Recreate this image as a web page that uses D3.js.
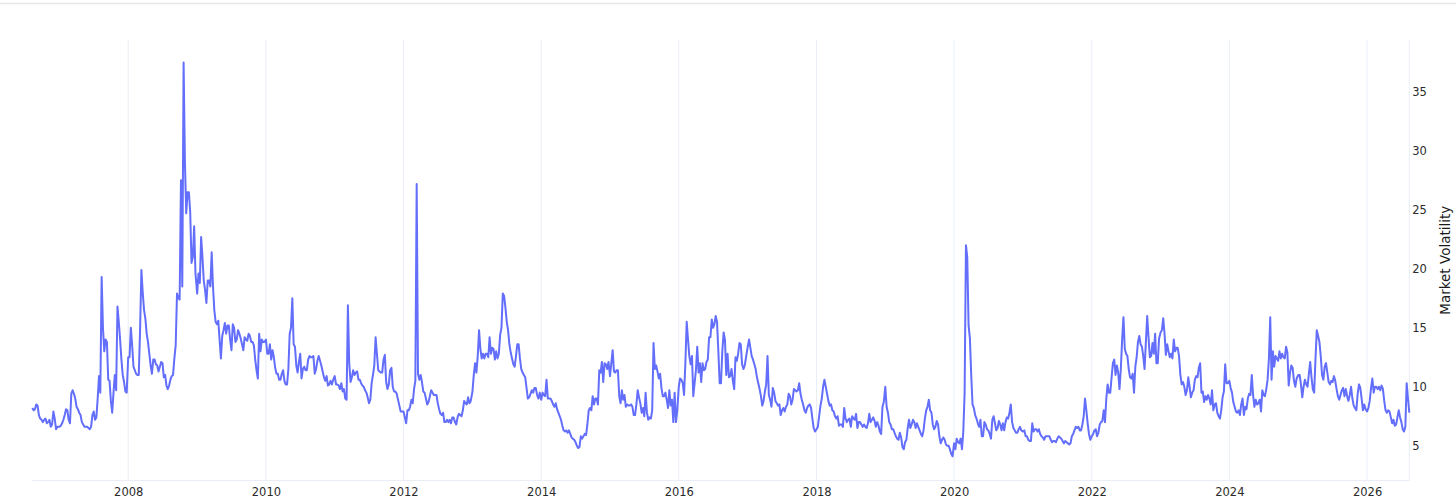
<!DOCTYPE html>
<html>
<head>
<meta charset="utf-8">
<script src="https://cdn.jsdelivr.net/npm/d3@7"></script>
<style>
  body { margin: 0; background: #fff; overflow: hidden; }
</style>
</head>
<body>
<div id="chart"></div>
<script>
// --- Data: weekly readings, one array per year ---
// 2006 starts on Aug 10, every other year on Jan 1; one value every 7 days
const v2006 = [8.2, 8.0, 8.1, 8.5, 8.4, 7.6, 7.3, 7.2, 7.0, 7.2, 7.3, 6.9, 7.0, 7.2, 6.6, 6.8, 7.9, 7.3, 6.4, 6.6];
const v2007 = [6.6, 6.7, 6.9, 7.2, 7.6, 8.1, 8.0, 7.2, 6.9, 9.4, 9.7, 9.4, 9.0, 8.3, 8.1, 7.8, 7.6, 7.0, 6.8, 6.6, 6.6, 6.6, 6.5, 6.4, 6.6, 7.6, 7.9, 7.2, 7.4, 9.0, 10.9, 9.5, 19.3, 15.0, 13.0, 14.0, 13.8, 10.6, 10.5, 8.8, 7.8, 9.5, 11.0, 9.7, 16.8, 15.5, 14.0, 12.3, 11.0, 10.4, 9.6, 9.5];
const v2008 = [12.5, 12.5, 15.0, 13.5, 11.7, 11.4, 11.1, 11.0, 11.0, 14.8, 19.9, 18.0, 16.5, 15.8, 14.5, 13.8, 12.8, 11.8, 11.1, 12.3, 12.3, 11.9, 11.8, 11.3, 11.7, 12.1, 12.0, 10.8, 11.0, 10.1, 9.8, 10.1, 10.6, 10.9, 11.0, 12.4, 13.5, 17.9, 17.5, 17.4, 27.5, 18.5, 37.5, 29.0, 24.7, 26.5, 26.5, 24.8, 20.5, 21.0, 23.6, 19.6];
const v2009 = [17.9, 19.6, 18.8, 22.7, 21.0, 19.0, 18.2, 17.1, 19.0, 19.0, 18.5, 21.4, 18.5, 16.5, 15.5, 15.3, 15.6, 14.0, 12.4, 14.3, 14.8, 15.4, 14.5, 15.2, 15.2, 14.0, 13.1, 15.3, 15.0, 13.8, 14.0, 14.8, 14.5, 14.1, 13.6, 13.1, 14.2, 14.0, 13.9, 14.5, 14.3, 13.8, 13.8, 13.5, 12.3, 11.4, 10.7, 14.5, 13.0, 14.0, 13.8, 13.8];
const v2010 = [14.0, 12.8, 12.8, 13.6, 12.3, 13.1, 12.5, 11.6, 11.1, 11.1, 10.6, 10.6, 11.1, 11.4, 10.5, 10.2, 10.2, 11.5, 14.5, 15.0, 17.5, 13.6, 13.4, 11.8, 11.2, 12.1, 12.8, 10.7, 11.5, 11.7, 11.4, 11.4, 12.3, 12.6, 12.5, 12.5, 12.6, 11.1, 11.5, 12.2, 12.6, 12.2, 11.8, 11.3, 10.8, 10.5, 10.9, 10.1, 10.2, 10.5, 10.2, 10.6];
const v2011 = [10.9, 10.2, 10.2, 10.1, 9.8, 10.3, 9.6, 9.8, 9.0, 8.9, 16.9, 12.0, 10.4, 10.8, 11.4, 11.0, 11.2, 11.3, 10.6, 10.6, 10.3, 10.1, 10.0, 9.7, 9.5, 9.1, 8.6, 8.9, 10.3, 11.0, 11.8, 14.2, 12.8, 11.4, 11.3, 11.2, 11.2, 12.3, 12.7, 10.4, 9.8, 10.2, 11.4, 11.6, 10.0, 9.6, 9.6, 9.4, 8.9, 8.4, 7.9, 7.9];
const v2012 = [7.9, 7.4, 6.9, 8.0, 8.0, 8.3, 8.9, 8.6, 9.8, 10.5, 27.2, 11.1, 10.6, 11.0, 10.4, 9.6, 9.5, 9.0, 8.5, 8.7, 9.2, 9.7, 9.5, 9.3, 9.3, 9.3, 8.6, 8.1, 7.7, 7.6, 7.8, 7.0, 7.0, 7.2, 7.0, 7.2, 6.9, 7.4, 7.4, 7.0, 6.8, 7.4, 7.7, 7.6, 7.5, 8.0, 8.8, 8.6, 8.5, 9.1, 8.6, 8.8];
const v2013 = [9.6, 11.0, 12.0, 11.2, 12.6, 14.8, 13.2, 12.4, 12.8, 12.4, 12.8, 12.8, 12.5, 14.2, 12.8, 13.3, 13.2, 12.3, 13.0, 12.4, 12.8, 14.4, 15.0, 17.9, 17.7, 16.7, 15.5, 14.8, 13.6, 12.9, 12.4, 11.9, 11.7, 12.6, 13.6, 13.6, 12.4, 11.5, 11.2, 11.0, 10.8, 9.9, 9.0, 9.1, 9.4, 9.7, 9.5, 9.9, 9.9, 9.3, 9.0, 9.5];
const v2014 = [8.9, 9.5, 9.3, 9.2, 10.6, 9.0, 9.0, 9.0, 8.8, 8.5, 8.3, 8.6, 8.1, 7.8, 7.5, 7.2, 6.7, 6.3, 6.2, 6.3, 6.1, 6.3, 6.0, 5.7, 5.6, 5.5, 5.3, 5.0, 4.8, 4.9, 5.8, 5.6, 5.8, 6.0, 5.9, 6.8, 8.0, 8.2, 8.0, 9.2, 8.5, 9.0, 9.0, 8.5, 11.4, 11.2, 12.1, 10.4, 12.0, 11.9, 11.5, 12.1];
const v2015 = [10.9, 12.0, 13.1, 11.3, 11.2, 11.4, 11.4, 9.2, 8.6, 9.7, 8.9, 9.3, 8.3, 8.5, 8.4, 8.4, 8.5, 8.3, 7.6, 7.6, 8.5, 9.7, 9.1, 8.6, 7.8, 8.2, 7.5, 9.5, 7.8, 7.2, 7.4, 7.3, 8.0, 13.7, 11.5, 11.8, 11.3, 10.7, 11.1, 9.9, 9.2, 9.2, 9.5, 8.9, 8.2, 9.7, 8.4, 8.9, 7.0, 9.5, 7.0, 8.0];
const v2016 = [10.0, 10.7, 10.6, 10.3, 9.3, 12.0, 15.5, 14.0, 12.6, 11.9, 12.6, 9.2, 10.3, 11.4, 13.4, 11.2, 12.0, 10.4, 12.0, 11.4, 11.5, 12.1, 12.3, 14.2, 14.2, 15.7, 15.0, 15.3, 16.0, 15.5, 13.0, 10.3, 10.3, 13.0, 14.6, 14.0, 11.0, 12.8, 10.8, 10.9, 11.5, 10.5, 9.8, 12.5, 12.2, 12.8, 13.7, 13.6, 11.9, 11.5, 11.8, 12.5];
const v2017 = [13.4, 14.0, 13.3, 12.6, 12.3, 11.9, 11.5, 10.8, 10.3, 9.8, 9.2, 8.4, 8.8, 9.6, 10.2, 12.6, 9.3, 8.9, 8.3, 9.9, 9.5, 8.8, 8.6, 8.4, 8.5, 7.6, 8.0, 8.2, 7.9, 8.3, 8.5, 9.4, 9.2, 8.5, 8.9, 9.8, 9.7, 9.6, 9.7, 10.3, 9.4, 8.9, 8.5, 8.0, 7.8, 8.2, 8.4, 8.5, 8.2, 7.3, 6.5, 6.2];
const v2018 = [6.4, 6.6, 7.5, 8.4, 9.0, 10.0, 10.6, 10.0, 9.4, 8.8, 8.4, 8.5, 8.0, 7.9, 7.5, 7.3, 7.5, 6.7, 6.8, 6.8, 6.6, 8.2, 7.3, 7.0, 7.2, 7.3, 6.6, 7.5, 7.3, 7.2, 7.7, 6.5, 7.0, 7.0, 6.8, 6.6, 6.8, 6.6, 6.5, 6.9, 7.7, 7.0, 7.2, 7.4, 7.1, 6.6, 7.0, 6.7, 6.2, 6.0, 8.3, 8.7];
const v2019 = [10.0, 8.3, 7.8, 7.0, 6.8, 6.4, 6.4, 6.1, 5.8, 5.6, 5.5, 6.1, 5.7, 4.9, 4.7, 5.3, 5.5, 6.5, 7.2, 6.5, 6.8, 7.2, 7.0, 6.5, 6.9, 6.6, 6.3, 6.0, 5.8, 6.3, 7.3, 8.0, 8.3, 8.9, 8.0, 7.8, 6.8, 6.4, 6.6, 7.1, 6.8, 5.8, 5.2, 5.5, 5.7, 5.5, 5.1, 5.0, 5.0, 4.7, 4.3, 4.1];
const v2020 = [5.2, 4.7, 5.6, 5.3, 5.2, 5.6, 4.7, 6.2, 9.5, 22.0, 21.0, 15.2, 14.1, 11.0, 8.5, 8.2, 7.6, 7.3, 6.9, 6.6, 7.2, 5.8, 5.8, 7.0, 6.8, 6.4, 6.3, 6.0, 5.6, 7.2, 7.5, 6.9, 6.3, 6.5, 7.1, 6.8, 6.3, 6.9, 6.3, 7.0, 7.4, 7.3, 7.8, 8.5, 7.0, 6.5, 6.3, 6.1, 6.1, 6.4, 6.6, 6.3];
const v2021 = [6.2, 6.3, 5.8, 5.8, 5.5, 5.4, 5.4, 6.9, 6.2, 6.4, 6.4, 6.2, 6.4, 6.0, 5.8, 5.7, 5.5, 5.8, 5.8, 5.8, 5.8, 5.5, 5.3, 5.4, 5.4, 5.3, 5.6, 5.8, 5.7, 5.6, 5.4, 5.2, 5.4, 5.3, 5.2, 5.1, 5.2, 5.8, 6.0, 6.3, 6.6, 6.5, 6.6, 6.3, 6.3, 6.8, 7.5, 9.0, 8.0, 6.9, 6.0, 5.5];
const v2022 = [5.8, 6.0, 6.3, 6.4, 5.8, 6.1, 6.8, 7.0, 7.1, 8.0, 7.0, 9.0, 10.2, 9.5, 9.5, 10.8, 12.0, 12.3, 11.0, 11.8, 11.2, 9.8, 11.5, 14.0, 15.9, 13.2, 12.8, 12.6, 11.5, 10.8, 10.7, 11.1, 9.5, 11.7, 12.5, 13.8, 14.3, 13.6, 13.4, 12.6, 11.5, 13.8, 16.0, 14.2, 12.5, 12.6, 13.7, 12.8, 14.5, 12.0, 12.0, 14.1];
const v2023 = [14.6, 14.8, 15.8, 14.5, 12.7, 13.6, 13.0, 12.5, 12.8, 12.4, 14.0, 13.0, 13.3, 13.3, 12.6, 11.0, 10.2, 10.4, 10.0, 9.3, 9.7, 10.8, 10.0, 9.1, 9.5, 9.7, 10.6, 10.9, 10.8, 11.6, 12.0, 9.5, 9.6, 8.7, 9.2, 8.9, 9.3, 9.0, 8.5, 9.7, 8.0, 8.5, 8.6, 7.8, 7.5, 7.3, 8.0, 9.1, 9.6, 11.9, 10.3, 10.3];
const v2024 = [10.5, 9.9, 9.5, 8.7, 8.3, 7.9, 7.8, 8.0, 7.6, 8.5, 9.0, 7.6, 8.3, 8.1, 9.0, 9.4, 9.3, 11.0, 9.3, 8.3, 8.9, 8.5, 8.6, 8.9, 7.9, 9.7, 9.3, 9.2, 9.8, 10.6, 12.4, 15.9, 10.6, 13.0, 11.7, 12.6, 12.4, 12.2, 13.0, 12.4, 12.8, 12.5, 12.4, 13.4, 12.9, 10.1, 11.2, 11.8, 11.6, 10.5, 10.0, 10.7];
const v2025 = [11.0, 11.0, 10.2, 9.1, 10.0, 10.6, 10.2, 10.0, 11.1, 12.1, 10.8, 9.8, 9.5, 12.3, 14.8, 14.3, 13.8, 12.6, 11.0, 10.6, 11.7, 12.0, 11.2, 10.4, 10.2, 10.5, 10.4, 10.9, 10.5, 9.8, 9.2, 8.9, 9.3, 9.7, 9.9, 9.2, 9.8, 9.2, 8.8, 9.3, 10.0, 9.0, 8.4, 8.2, 8.0, 9.4, 10.2, 9.9, 9.0, 8.0, 8.5, 8.1];
const v2026 = [7.9, 8.2, 8.8, 9.9, 10.7, 9.5, 10.0, 10.0, 9.8, 10.0, 9.7, 10.1, 9.8, 8.8, 8.0, 7.8, 8.0, 7.9, 7.4, 6.9, 7.2, 6.7, 6.8, 7.4, 8.0, 7.4, 7.0, 6.4, 6.2, 6.6, 10.3, 9.0, 7.8];

const yTicks = [5, 10, 15, 20, 25, 30, 35];
const xTickYears = [2008, 2010, 2012, 2014, 2016, 2018, 2020, 2022, 2024, 2026];
const yTitle = "Market Volatility";

// --- Build the series ---
const series = [];
v2006.forEach((v, i) => series.push({ date: new Date(2006, 7, 10 + 7 * i), value: v }));
const byYear = [
  [2007, v2007], [2008, v2008], [2009, v2009], [2010, v2010], [2011, v2011],
  [2012, v2012], [2013, v2013], [2014, v2014], [2015, v2015], [2016, v2016],
  [2017, v2017], [2018, v2018], [2019, v2019], [2020, v2020], [2021, v2021],
  [2022, v2022], [2023, v2023], [2024, v2024], [2025, v2025], [2026, v2026]
];
byYear.forEach(([yr, vals]) =>
  vals.forEach((v, i) => series.push({ date: new Date(yr, 0, 1 + 7 * i), value: v })));

// --- Layout ---
const W = 1456, H = 503;
const plotL = 32.3, plotR = 1409.3, plotT = 40, plotB = 480.5;
const font = "'DejaVu Sans', Verdana, sans-serif";
const gridColor = "#e9eef6";

const svg = d3.select("#chart").append("svg")
  .attr("width", W).attr("height", H);

// thin page rule at the very top
svg.append("line")
  .attr("x1", 0).attr("x2", W).attr("y1", 3.5).attr("y2", 3.5)
  .attr("stroke", "#e6e6e6").attr("stroke-width", 1.5);

const x = d3.scaleTime()
  .domain(d3.extent(series, d => d.date))
  .range([plotL, plotR]);
const y = d3.scaleLinear()
  .domain([2.05, 39.4])
  .range([plotB, plotT]);

const xTickDates = xTickYears.map(yr => new Date(yr, 0, 1));

// vertical gridlines
svg.append("g").selectAll("line").data(xTickDates).join("line")
  .attr("x1", d => x(d)).attr("x2", d => x(d))
  .attr("y1", plotT).attr("y2", plotB)
  .attr("stroke", gridColor).attr("stroke-width", 1);

// axis lines (bottom + right)
svg.append("line")
  .attr("x1", plotL).attr("x2", plotR).attr("y1", plotB).attr("y2", plotB)
  .attr("stroke", gridColor).attr("stroke-width", 1);
svg.append("line")
  .attr("x1", plotR).attr("x2", plotR).attr("y1", plotT).attr("y2", plotB)
  .attr("stroke", gridColor).attr("stroke-width", 1);

// x axis labels
const xAxis = svg.append("g")
  .attr("transform", `translate(0,${plotB})`)
  .call(d3.axisBottom(x).tickValues(xTickDates).tickSize(0).tickPadding(7)
    .tickFormat(d3.timeFormat("%Y")));
xAxis.select(".domain").remove();
xAxis.selectAll("text")
  .attr("font-family", font).attr("font-size", "11.5px").attr("fill", "#2b2b2b");

// y axis labels (right side)
const yAxis = svg.append("g")
  .attr("transform", `translate(${plotR},0)`)
  .call(d3.axisRight(y).tickValues(yTicks).tickSize(0).tickPadding(3));
yAxis.select(".domain").remove();
yAxis.selectAll("text")
  .attr("font-family", font).attr("font-size", "11.5px").attr("fill", "#2b2b2b");

// y axis title
svg.append("text")
  .attr("transform", `translate(1450,${(plotT + plotB) / 2}) rotate(-90)`)
  .attr("text-anchor", "middle")
  .attr("font-family", font).attr("font-size", "13.5px").attr("fill", "#1a1a1a")
  .text(yTitle);

// --- Line ---
const line = d3.line()
  .x(d => x(d.date))
  .y(d => y(d.value));

svg.append("path")
  .datum(series)
  .attr("fill", "none")
  .attr("stroke", "#636efa")
  .attr("stroke-width", 2)
  .attr("stroke-linejoin", "round")
  .attr("d", line);
</script>
</body>
</html>
